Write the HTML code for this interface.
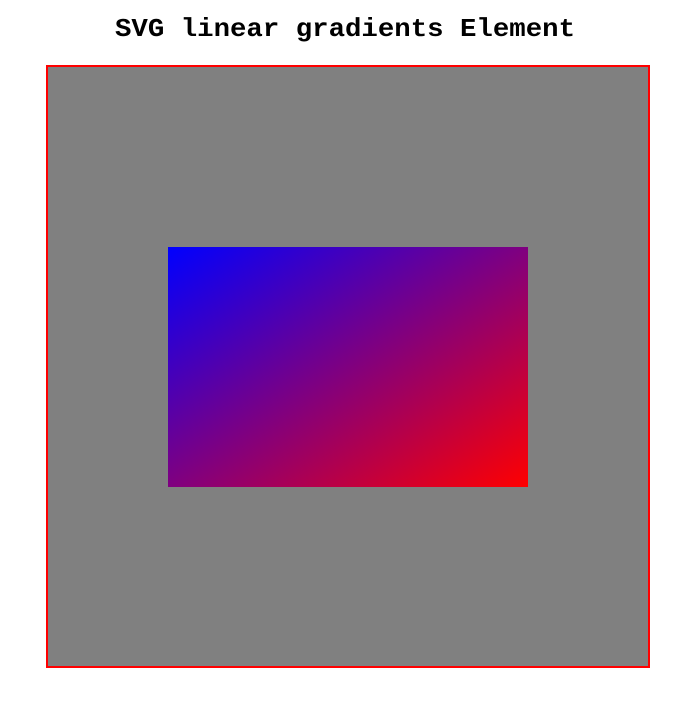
<!DOCTYPE html>
<html>
<head>
<meta charset="utf-8">
<style>
  html, body { margin: 0; padding: 0; background: #fff; }
  svg { display: block; }
</style>
</head>
<body>
<svg width="694" height="708" viewBox="0 0 694 708" xmlns="http://www.w3.org/2000/svg">
  <defs>
    <linearGradient id="grad" x1="0" y1="0" x2="1" y2="1">
      <stop offset="0" stop-color="#0000ff"/>
      <stop offset="1" stop-color="#ff0000"/>
    </linearGradient>
  </defs>
  <text x="345" y="36" text-anchor="middle" font-family="'Liberation Mono', monospace" font-weight="bold" font-size="26" textLength="460" lengthAdjust="spacingAndGlyphs" fill="#000">SVG linear gradients Element</text>
  <rect x="47" y="66" width="602" height="601" fill="#808080" stroke="#ff0000" stroke-width="2"/>
  <rect x="168" y="247" width="360" height="240" fill="url(#grad)"/>
</svg>
</body>
</html>
